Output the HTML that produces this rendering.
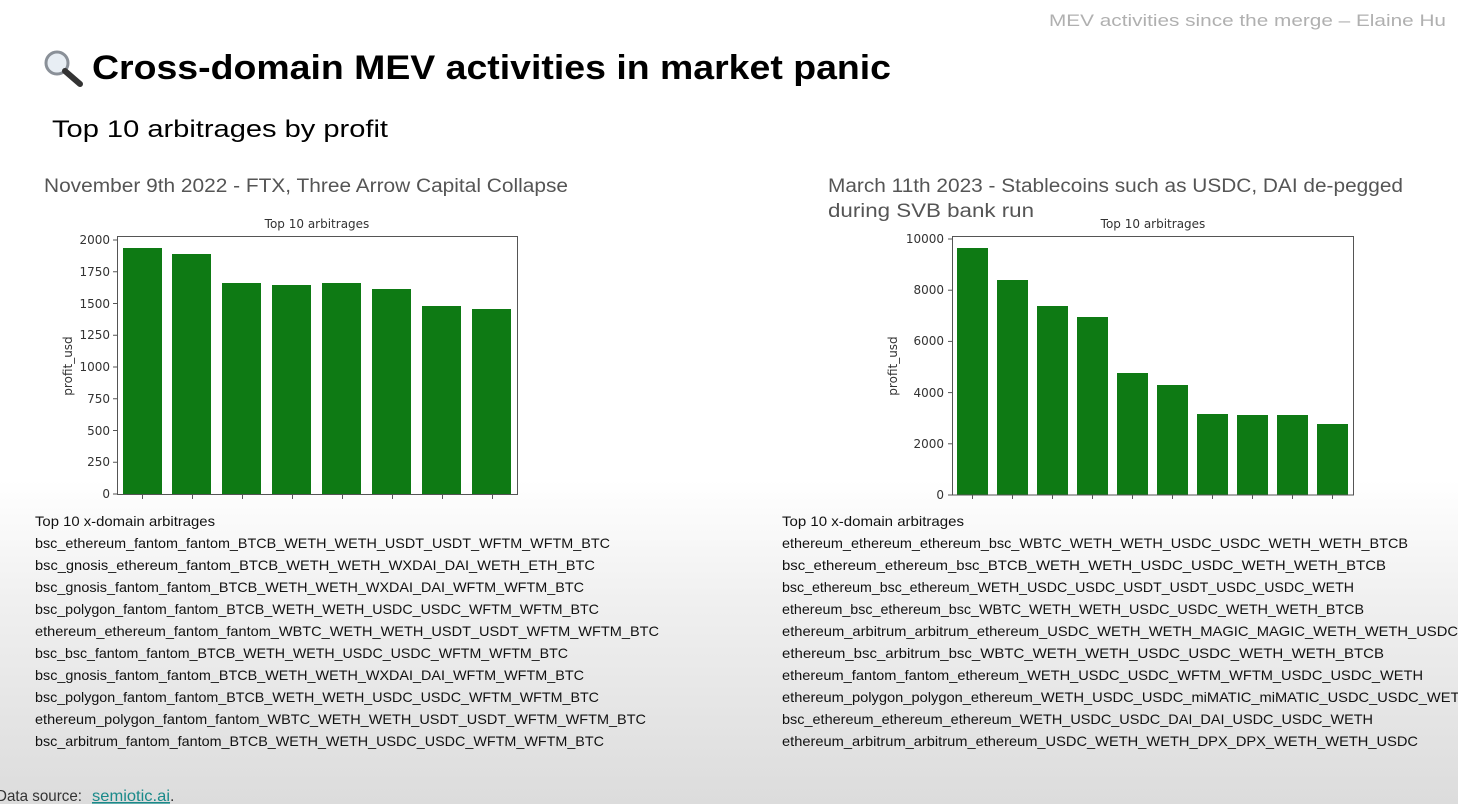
<!DOCTYPE html>
<html><head><meta charset="utf-8"><style>
html,body{margin:0;padding:0;width:1458px;height:804px;overflow:hidden}
body{background:linear-gradient(to bottom,#fff 0,#fff 480px,#f0f0f0 600px,#dcdcdc 804px)}
svg{position:absolute;left:0;top:0}
.l{font-family:"Liberation Sans",sans-serif;font-size:14px;fill:#111}
.t{font-family:"DejaVu Sans",sans-serif;font-size:12px;fill:#333}
</style></head><body>
<svg width="1458" height="804" viewBox="0 0 1458 804">
<text x="1049" y="26" font-family="Liberation Sans,sans-serif" font-size="17" fill="#b0b0b0" textLength="397" lengthAdjust="spacingAndGlyphs">MEV activities since the merge – Elaine Hu</text>
<g transform="translate(44,50)">
<circle cx="13" cy="13" r="11" fill="#e8eef4" stroke="#8a9098" stroke-width="3"/>
<line x1="21" y1="21" x2="36" y2="34" stroke="#333" stroke-width="6" stroke-linecap="round"/>
</g>
<text x="92" y="79" font-family="Liberation Sans,sans-serif" font-weight="bold" font-size="34" fill="#000" textLength="799" lengthAdjust="spacingAndGlyphs">Cross-domain MEV activities in market panic</text>
<text x="52" y="137" font-family="Liberation Sans,sans-serif" font-size="24" fill="#000" textLength="336" lengthAdjust="spacingAndGlyphs">Top 10 arbitrages by profit</text>
<text x="44" y="192" font-family="Liberation Sans,sans-serif" font-size="19" fill="#555" textLength="524" lengthAdjust="spacingAndGlyphs">November 9th 2022 - FTX, Three Arrow Capital Collapse</text>
<text x="828" y="192" font-family="Liberation Sans,sans-serif" font-size="19" fill="#555" textLength="575" lengthAdjust="spacingAndGlyphs">March 11th 2023 - Stablecoins such as USDC, DAI de-pegged</text>
<text x="828" y="217" font-family="Liberation Sans,sans-serif" font-size="19" fill="#555" textLength="206" lengthAdjust="spacingAndGlyphs">during SVB bank run</text>

<text class="t" x="317" y="228" text-anchor="middle" font-size="14">Top 10 arbitrages</text>
<g fill="#0e7a14">
<rect x="123" y="248" width="39" height="246"/>
<rect x="172" y="254" width="39" height="240"/>
<rect x="222" y="283" width="39" height="211"/>
<rect x="272" y="285" width="39" height="209"/>
<rect x="322" y="283" width="39" height="211"/>
<rect x="372" y="289" width="39" height="205"/>
<rect x="422" y="306" width="39" height="188"/>
<rect x="472" y="309" width="39" height="185"/>
</g>
<rect x="117.5" y="236.5" width="400" height="258" fill="none" stroke="#555" stroke-width="1"/>
<g stroke="#555"><line x1="113" y1="494" x2="117" y2="494"/><line x1="113" y1="462.25" x2="117" y2="462.25"/><line x1="113" y1="430.5" x2="117" y2="430.5"/><line x1="113" y1="398.75" x2="117" y2="398.75"/><line x1="113" y1="367" x2="117" y2="367"/><line x1="113" y1="335.25" x2="117" y2="335.25"/><line x1="113" y1="303.5" x2="117" y2="303.5"/><line x1="113" y1="271.75" x2="117" y2="271.75"/><line x1="113" y1="240" x2="117" y2="240"/>
<line x1="142.5" y1="495" x2="142.5" y2="499"/><line x1="192.5" y1="495" x2="192.5" y2="499"/><line x1="242.5" y1="495" x2="242.5" y2="499"/><line x1="292.5" y1="495" x2="292.5" y2="499"/><line x1="342.5" y1="495" x2="342.5" y2="499"/><line x1="392.5" y1="495" x2="392.5" y2="499"/><line x1="442.5" y1="495" x2="442.5" y2="499"/><line x1="492.5" y1="495" x2="492.5" y2="499"/></g>
<g class="t" text-anchor="end">
<text x="110" y="498">0</text><text x="110" y="466">250</text><text x="110" y="435">500</text><text x="110" y="403">750</text><text x="110" y="371">1000</text><text x="110" y="339">1250</text><text x="110" y="308">1500</text><text x="110" y="276">1750</text><text x="110" y="244">2000</text>
</g>
<text class="t" transform="translate(72,366) rotate(-90)" text-anchor="middle">profit_usd</text>

<text class="t" x="1153" y="228" text-anchor="middle" font-size="14">Top 10 arbitrages</text>
<g fill="#0e7a14">
<rect x="957" y="248" width="31" height="247"/>
<rect x="997" y="280" width="31" height="215"/>
<rect x="1037" y="306" width="31" height="189"/>
<rect x="1077" y="317" width="31" height="178"/>
<rect x="1117" y="373" width="31" height="122"/>
<rect x="1157" y="385" width="31" height="110"/>
<rect x="1197" y="414" width="31" height="81"/>
<rect x="1237" y="415" width="31" height="80"/>
<rect x="1277" y="415" width="31" height="80"/>
<rect x="1317" y="424" width="31" height="71"/>
</g>
<rect x="952.5" y="236.5" width="401" height="258.5" fill="none" stroke="#555" stroke-width="1"/>
<g stroke="#555"><line x1="948" y1="495" x2="952" y2="495"/><line x1="948" y1="443.8" x2="952" y2="443.8"/><line x1="948" y1="392.6" x2="952" y2="392.6"/><line x1="948" y1="341.4" x2="952" y2="341.4"/><line x1="948" y1="290.2" x2="952" y2="290.2"/><line x1="948" y1="239" x2="952" y2="239"/>
<line x1="972.5" y1="495" x2="972.5" y2="499"/><line x1="1012.5" y1="495" x2="1012.5" y2="499"/><line x1="1052.5" y1="495" x2="1052.5" y2="499"/><line x1="1092.5" y1="495" x2="1092.5" y2="499"/><line x1="1132.5" y1="495" x2="1132.5" y2="499"/><line x1="1172.5" y1="495" x2="1172.5" y2="499"/><line x1="1212.5" y1="495" x2="1212.5" y2="499"/><line x1="1252.5" y1="495" x2="1252.5" y2="499"/><line x1="1292.5" y1="495" x2="1292.5" y2="499"/><line x1="1332.5" y1="495" x2="1332.5" y2="499"/></g>
<g class="t" text-anchor="end">
<text x="944" y="499">0</text><text x="944" y="448">2000</text><text x="944" y="397">4000</text><text x="944" y="345">6000</text><text x="944" y="294">8000</text><text x="944" y="243">10000</text>
</g>
<text class="t" transform="translate(897,366) rotate(-90)" text-anchor="middle">profit_usd</text>

<g class="l">
<text x="35" y="526" textLength="180" lengthAdjust="spacingAndGlyphs">Top 10 x-domain arbitrages</text>
<text x="35" y="548" textLength="575" lengthAdjust="spacingAndGlyphs">bsc_ethereum_fantom_fantom_BTCB_WETH_WETH_USDT_USDT_WFTM_WFTM_BTC</text>
<text x="35" y="570" textLength="560" lengthAdjust="spacingAndGlyphs">bsc_gnosis_ethereum_fantom_BTCB_WETH_WETH_WXDAI_DAI_WETH_ETH_BTC</text>
<text x="35" y="592" textLength="549" lengthAdjust="spacingAndGlyphs">bsc_gnosis_fantom_fantom_BTCB_WETH_WETH_WXDAI_DAI_WFTM_WFTM_BTC</text>
<text x="35" y="614" textLength="564" lengthAdjust="spacingAndGlyphs">bsc_polygon_fantom_fantom_BTCB_WETH_WETH_USDC_USDC_WFTM_WFTM_BTC</text>
<text x="35" y="636" textLength="624" lengthAdjust="spacingAndGlyphs">ethereum_ethereum_fantom_fantom_WBTC_WETH_WETH_USDT_USDT_WFTM_WFTM_BTC</text>
<text x="35" y="658" textLength="533" lengthAdjust="spacingAndGlyphs">bsc_bsc_fantom_fantom_BTCB_WETH_WETH_USDC_USDC_WFTM_WFTM_BTC</text>
<text x="35" y="680" textLength="549" lengthAdjust="spacingAndGlyphs">bsc_gnosis_fantom_fantom_BTCB_WETH_WETH_WXDAI_DAI_WFTM_WFTM_BTC</text>
<text x="35" y="702" textLength="564" lengthAdjust="spacingAndGlyphs">bsc_polygon_fantom_fantom_BTCB_WETH_WETH_USDC_USDC_WFTM_WFTM_BTC</text>
<text x="35" y="724" textLength="611" lengthAdjust="spacingAndGlyphs">ethereum_polygon_fantom_fantom_WBTC_WETH_WETH_USDT_USDT_WFTM_WFTM_BTC</text>
<text x="35" y="746" textLength="569" lengthAdjust="spacingAndGlyphs">bsc_arbitrum_fantom_fantom_BTCB_WETH_WETH_USDC_USDC_WFTM_WFTM_BTC</text>
</g>
<g class="l">
<text x="782" y="526" textLength="182" lengthAdjust="spacingAndGlyphs">Top 10 x-domain arbitrages</text>
<text x="782" y="548" textLength="626" lengthAdjust="spacingAndGlyphs">ethereum_ethereum_ethereum_bsc_WBTC_WETH_WETH_USDC_USDC_WETH_WETH_BTCB</text>
<text x="782" y="570" textLength="604" lengthAdjust="spacingAndGlyphs">bsc_ethereum_ethereum_bsc_BTCB_WETH_WETH_USDC_USDC_WETH_WETH_BTCB</text>
<text x="782" y="592" textLength="572" lengthAdjust="spacingAndGlyphs">bsc_ethereum_bsc_ethereum_WETH_USDC_USDC_USDT_USDT_USDC_USDC_WETH</text>
<text x="782" y="614" textLength="582" lengthAdjust="spacingAndGlyphs">ethereum_bsc_ethereum_bsc_WBTC_WETH_WETH_USDC_USDC_WETH_WETH_BTCB</text>
<text x="782" y="636" textLength="676" lengthAdjust="spacingAndGlyphs">ethereum_arbitrum_arbitrum_ethereum_USDC_WETH_WETH_MAGIC_MAGIC_WETH_WETH_USDC</text>
<text x="782" y="658" textLength="602" lengthAdjust="spacingAndGlyphs">ethereum_bsc_arbitrum_bsc_WBTC_WETH_WETH_USDC_USDC_WETH_WETH_BTCB</text>
<text x="782" y="680" textLength="641" lengthAdjust="spacingAndGlyphs">ethereum_fantom_fantom_ethereum_WETH_USDC_USDC_WFTM_WFTM_USDC_USDC_WETH</text>
<text x="782" y="702" textLength="688" lengthAdjust="spacingAndGlyphs">ethereum_polygon_polygon_ethereum_WETH_USDC_USDC_miMATIC_miMATIC_USDC_USDC_WETH</text>
<text x="782" y="724" textLength="591" lengthAdjust="spacingAndGlyphs">bsc_ethereum_ethereum_ethereum_WETH_USDC_USDC_DAI_DAI_USDC_USDC_WETH</text>
<text x="782" y="746" textLength="636" lengthAdjust="spacingAndGlyphs">ethereum_arbitrum_arbitrum_ethereum_USDC_WETH_WETH_DPX_DPX_WETH_WETH_USDC</text>
</g>
<text x="-4" y="801" font-family="Liberation Sans,sans-serif" font-size="16" fill="#333" textLength="86" lengthAdjust="spacingAndGlyphs">Data source:</text>
<text x="92" y="801" font-family="Liberation Sans,sans-serif" font-size="16" fill="#1a8a8a" text-decoration="underline" textLength="78" lengthAdjust="spacingAndGlyphs">semiotic.ai</text>
<text x="170" y="801" font-family="Liberation Sans,sans-serif" font-size="16" fill="#333">.</text>
</svg>
</body></html>
